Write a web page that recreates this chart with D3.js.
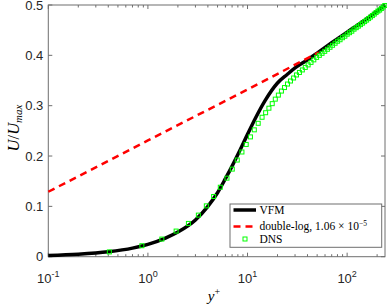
<!DOCTYPE html>
<html lang="en">
<head>
<meta charset="UTF-8">
<title>VFM vs DNS</title>
<script src="https://d3js.org/d3.v7.min.js"></script>
<style>
    body{margin:0;background:#fff;}
    svg{display:block;}
    .tick-label{font-family:"Liberation Sans",Arial,sans-serif;font-size:13px;fill:#262626;}
    .math{font-family:"Liberation Serif","Times New Roman",serif;font-style:italic;fill:#000;}
    .legend-text{font-family:"Liberation Serif","Times New Roman",serif;font-size:11.5px;fill:#000;}
</style>
</head>
<body>
<svg width="387" height="305"></svg>
<script>
    // VFM profile (black solid)
    const vfmY = [0.1, 0.2, 0.4, 0.7, 1, 1.5, 2, 3, 4, 5, 6, 7, 8, 10, 12, 15, 20, 25, 30, 40, 52, 70, 100, 150, 200, 240]
    const vfmU = [0.0025, 0.005, 0.0098, 0.017, 0.0245, 0.037, 0.049, 0.073, 0.100, 0.127, 0.155, 0.18, 0.203, 0.243, 0.275, 0.31, 0.345, 0.362, 0.375, 0.391, 0.407, 0.425, 0.446, 0.470, 0.488, 0.5]

    // double-log law (red dashed)
    const logY = [0.1, 1, 10, 52]
    const logU = [0.129, 0.231, 0.332, 0.406]

    // DNS samples (green squares)
    const dnsY = [0.41, 0.87, 1.38, 1.92, 2.55, 3.21, 3.86, 4.57, 5.33, 6.22, 7.03, 7.89, 8.79, 9.70, 10.7, 11.7, 12.8,
        14, 15.2, 16.4, 17.7, 19, 20.4, 21.9, 23.5, 25.2, 27, 29, 31, 33.2, 35.5, 38, 40.6, 43.4, 46.3, 49.4, 52.6,
        56, 59.6, 63.4, 67.3, 71.4, 75.7, 80.2, 84.9, 89.8, 94.9, 100.2, 105.7, 111.4, 117.3, 123.4, 129.7, 136.2,
        142.9, 149.8, 156.9, 164.2, 171.7, 179.4, 187.3, 195.4, 203.7, 212.2, 220.9, 229.8, 238.9]
    const dnsU = [0.0095, 0.0218, 0.035, 0.0509, 0.0661, 0.0826, 0.101, 0.1196, 0.138, 0.156, 0.174, 0.192, 0.208, 0.223, 0.238, 0.252, 0.265,
        0.277, 0.286, 0.295, 0.304, 0.313, 0.321, 0.329, 0.336, 0.343, 0.349, 0.355, 0.361, 0.366, 0.371, 0.376, 0.381, 0.386, 0.391, 0.396, 0.400,
        0.404, 0.408, 0.412, 0.416, 0.420, 0.424, 0.428, 0.431, 0.435, 0.438, 0.442, 0.445, 0.448, 0.452, 0.455, 0.458, 0.461,
        0.464, 0.467, 0.470, 0.473, 0.476, 0.479, 0.482, 0.485, 0.488, 0.490, 0.493, 0.496, 0.499]

    const yTicks = [0, 0.1, 0.2, 0.3, 0.4, 0.5]
    const yTickLabels = ["0", "0.1", "0.2", "0.3", "0.4", "0.5"]
    const xMajor = [0.1, 1, 10, 100]
    const xMajorExp = ["-1", "0", "1", "2"]
    const legendLabels = ["VFM", "double-log, 1.06 \u00d7 10", "DNS"]

    const svg = d3.select("svg")
    const pL = 48.3, pR = 385, pT = 5, pB = 256.7
    const x = d3.scaleLog().domain([0.1, 240]).range([pL, pR])
    const y = d3.scaleLinear().domain([0, 0.5]).range([pB, pT])
    const axisColor = "#6e6e6e"

    // plot box
    svg.append("rect")
        .attr("x", pL).attr("y", pT)
        .attr("width", pR - pL).attr("height", pB - pT)
        .attr("fill", "none").attr("stroke", axisColor).attr("stroke-width", 1)

    // minor + major x ticks (inside, bottom and top)
    const xAll = []
    for (let d = 0.1; d < 1000; d *= 10) {
        for (let k = 1; k < 10; k++) {
            const v = +(d * k).toPrecision(3)
            if (v >= 0.1 && v <= 240) xAll.push(v)
        }
    }
    const ticks = svg.append("g")
    xAll.forEach(v => {
        const len = xMajor.includes(v) ? 4 : 2.5
        ticks.append("line").attr("x1", x(v)).attr("x2", x(v))
            .attr("y1", pB).attr("y2", pB - len).attr("stroke", axisColor)
        ticks.append("line").attr("x1", x(v)).attr("x2", x(v))
            .attr("y1", pT).attr("y2", pT + len).attr("stroke", axisColor)
    })
    yTicks.forEach(v => {
        ticks.append("line").attr("x1", pL).attr("x2", pL + 4)
            .attr("y1", y(v)).attr("y2", y(v)).attr("stroke", axisColor)
        ticks.append("line").attr("x1", pR).attr("x2", pR - 4)
            .attr("y1", y(v)).attr("y2", y(v)).attr("stroke", axisColor)
    })

    // tick labels
    svg.append("g").selectAll("text").data(yTicks).enter().append("text")
        .attr("class", "tick-label")
        .attr("x", pL - 5).attr("y", d => y(d) + 4.5)
        .attr("text-anchor", "end")
        .text((d, i) => yTickLabels[i])

    const xl = svg.append("g").selectAll("text").data(xMajor).enter().append("text")
        .attr("class", "tick-label")
        .attr("x", d => x(d)).attr("y", 283)
        .attr("text-anchor", "middle")
    xl.append("tspan").text("10")
    xl.append("tspan").attr("dy", -6).style("font-size", "9px").text((d, i) => xMajorExp[i])

    // curves
    svg.append("path")
        .datum(vfmY.map((v, i) => [v, vfmU[i]]))
        .attr("d", d3.line().x(d => x(d[0])).y(d => y(d[1])).curve(d3.curveMonotoneX))
        .attr("fill", "none").attr("stroke", "black").attr("stroke-width", 3.5)

    svg.append("path")
        .datum(logY.map((v, i) => [v, logU[i]]))
        .attr("d", d3.line().x(d => x(d[0])).y(d => y(d[1])))
        .attr("fill", "none").attr("stroke", "#ff0000").attr("stroke-width", 2.5)
        .attr("stroke-dasharray", "7,5")

    svg.append("g").selectAll("rect").data(dnsY.map((v, i) => [v, dnsU[i]])).enter().append("rect")
        .attr("x", d => x(d[0]) - 2).attr("y", d => y(d[1]) - 2)
        .attr("width", 4).attr("height", 4)
        .attr("fill", "none").attr("stroke", "#00ff00").attr("stroke-width", 1)

    // axis labels
    const xlab = svg.append("text").attr("class", "math")
        .attr("x", 214).attr("y", 301).attr("text-anchor", "middle").style("font-size", "15px")
    xlab.append("tspan").text("y")
    xlab.append("tspan").attr("dy", -6).style("font-size", "10px").style("font-style", "normal").text("+")

    const ylab = svg.append("text").attr("class", "math")
        .attr("transform", "translate(19,128) rotate(-90)")
        .attr("text-anchor", "middle").style("font-size", "16.5px")
    ylab.append("tspan").text("U")
    ylab.append("tspan").style("font-style", "normal").text("/")
    ylab.append("tspan").text("U")
    ylab.append("tspan").attr("dy", 3).style("font-size", "11px").text("max")

    // legend
    const lg = svg.append("g")
    lg.append("rect").attr("x", 230).attr("y", 204).attr("width", 151.7).attr("height", 43.3)
        .attr("fill", "white").attr("stroke", axisColor)
    const rowY = [210, 226.5, 239]
    lg.append("line").attr("x1", 233.5).attr("x2", 256).attr("y1", rowY[0]).attr("y2", rowY[0])
        .attr("stroke", "black").attr("stroke-width", 3.5)
    lg.append("line").attr("x1", 233.5).attr("x2", 256).attr("y1", rowY[1]).attr("y2", rowY[1])
        .attr("stroke", "#ff0000").attr("stroke-width", 2.5).attr("stroke-dasharray", "7,5")
    lg.append("rect").attr("x", 243).attr("y", rowY[2] - 2).attr("width", 4).attr("height", 4)
        .attr("fill", "none").attr("stroke", "#00ff00")
    legendLabels.forEach((t, i) => {
        const tx = lg.append("text").attr("class", "legend-text")
            .attr("x", 259.5).attr("y", rowY[i] + 3.5).text(t)
        if (i === 1) tx.append("tspan").attr("dy", -4).style("font-size", "7.5px").text("\u22125")
    })
</script>
</body>
</html>
